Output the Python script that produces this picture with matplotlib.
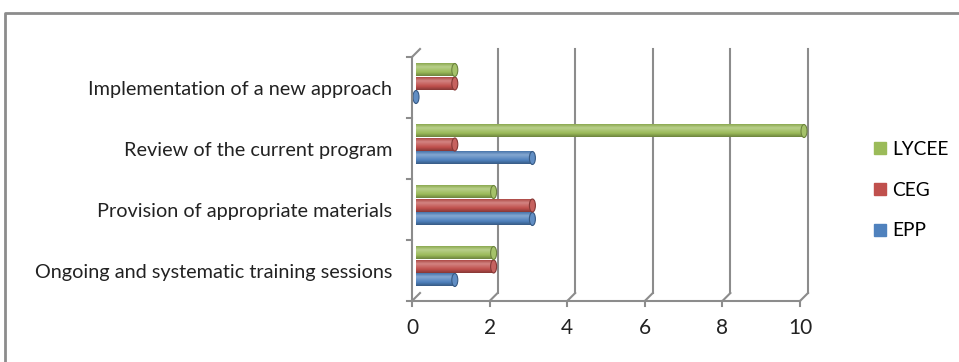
import numpy as np
import matplotlib.pyplot as plt
from matplotlib.colors import LinearSegmentedColormap, to_rgb
from matplotlib.patches import Ellipse
from matplotlib.lines import Line2D

####### DATA #######

categories = ["Ongoing and systematic training sessions",
              "Provision of appropriate materials",
              "Review of the current program",
              "Implementation of a new approach"]
series_names = ["EPP", "CEG", "LYCEE"]
epp = [1, 3, 3, 0]
ceg = [2, 3, 1, 1]
lycee = [2, 2, 10, 1]
series_colors = ["#4F81BD", "#C0504D", "#9BBB59"]
x_ticks = [0, 2, 4, 6, 8, 10]

####### STYLE #######

plt.rcParams['font.family'] = ['Lato', 'DejaVu Sans']
grid_col = "#8C8C8C"

fig = plt.figure(figsize=(9.59, 3.62), dpi=100)
ax = fig.add_axes([412/959, (362-301)/362, 388/959, 244/362])
ax.set_xlim(0, 10)
ax.set_ylim(-0.5, 3.5)
ax.axis("off")

# pixel -> data helpers
px_x = 10 / 388
px_y = 4 / 244
dx, dy = 8 * px_x, 8 * px_y

def mix(c, other, t):
    c = np.array(to_rgb(c))
    o = np.array(to_rgb(other))
    return tuple(c * (1 - t) + o * t)

def cylinder(x0, x1, y0, y1, color):
    cmap = LinearSegmentedColormap.from_list("cyl", [
        (0.0, mix(color, "black", 0.3)),
        (0.3, color),
        (0.72, mix(color, "white", 0.3)),
        (1.0, mix(color, "black", 0.1))])
    grad = np.linspace(0, 1, 64).reshape(-1, 1)
    if x1 > x0:
        ax.imshow(grad, cmap=cmap, extent=(x0, x1, y0, y1), origin="lower",
                  aspect="auto", zorder=3, interpolation="bilinear",
                  clip_on=False)
    cap = Ellipse((x1, (y0 + y1) / 2), 6 * px_x, (y1 - y0),
                  facecolor=mix(color, "white", 0.1),
                  edgecolor=mix(color, "black", 0.3), lw=0.8, zorder=4,
                  clip_on=False)
    ax.add_patch(cap)

# back wall gridlines and floor diagonals
for xt in x_ticks:
    if xt > 0:
        ax.plot([xt + dx, xt + dx], [-0.5 + dy, 3.5 + dy], color=grid_col,
                lw=1.5, zorder=1, clip_on=False)
    ax.plot([xt, xt + dx], [-0.5, -0.5 + dy], color=grid_col, lw=1.5,
            zorder=1, clip_on=False)
    ax.plot([xt, xt], [-0.5, -0.5 - 5 * px_y], color=grid_col, lw=1.5,
            clip_on=False)
    ax.text(xt, -0.5 - 27 * px_y, str(xt), ha="center", va="center",
            fontsize=15, color="#222222")

# floor front edge, left axis
ax.plot([0, 10], [-0.5, -0.5], color=grid_col, lw=1.5, clip_on=False, zorder=5)
ax.plot([0, 0], [-0.5, 3.5], color=grid_col, lw=1.5, clip_on=False, zorder=5)
ax.plot([0, dx], [3.5, 3.5 + dy], color=grid_col, lw=1.5, clip_on=False)
for yb in np.arange(-0.5, 3.6, 1.0):
    ax.plot([-5 * px_x, 0], [yb, yb], color=grid_col, lw=1.5, clip_on=False)

# bars
bar_h = 13 * px_y
pitch = 13.5 * px_y
shift_x = 4 * px_x
shift_y = 4 * px_y
all_vals = [epp, ceg, lycee]
for si, (vals, col) in enumerate(zip(all_vals, series_colors)):
    for ci, v in enumerate(vals):
        yc = ci + shift_y + (si - 1) * pitch
        cylinder(shift_x, v + shift_x, yc - bar_h / 2, yc + bar_h / 2, col)

# category labels
for ci, lab in enumerate(categories):
    ax.text(-20 * px_x, ci - 2 * px_y, lab, ha="right", va="center",
            fontsize=14.3, color="#222222")

# legend
handles = [Line2D([], [], marker="s", ls="", markersize=8,
                  markerfacecolor=c, markeredgecolor=c)
           for c in series_colors[::-1]]
fig.legend(handles, series_names[::-1], loc="center left",
           bbox_to_anchor=(853/959, 1 - 190/362), frameon=False,
           fontsize=13.8, labelspacing=1.25, handletextpad=0.15,
           handlelength=1.0)

# outer chart border
fig.add_artist(Line2D([5/959, 5/959, 1.0], [0.0, 1 - 13/362, 1 - 13/362],
                      transform=fig.transFigure, color="#8C8C8C", lw=2))

fig.savefig("out.png", dpi=100)
